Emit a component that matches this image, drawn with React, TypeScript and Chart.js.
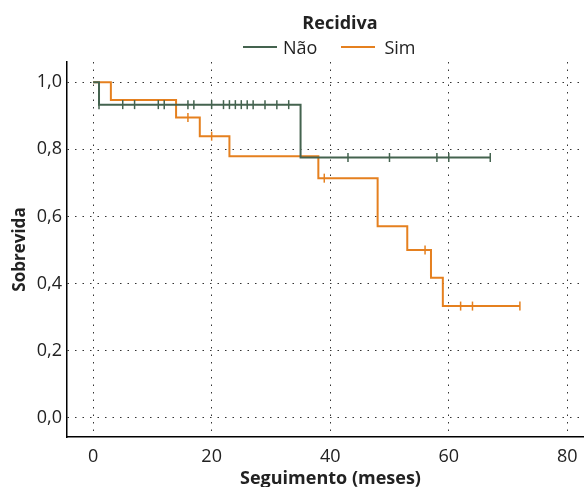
import React, { useEffect, useRef } from "react";
import { Chart, registerables } from "chart.js";

Chart.register(...registerables);

// Kaplan-Meier curves (time in months, survival)
const naoTimes = [0, 1, 35, 67];
const naoSurv = [1.0, 0.933, 0.7755, 0.7755];
const naoCensored = [1, 5, 7, 11, 12, 16, 17, 20, 22, 23, 24, 25, 26, 27, 29, 31, 33, 43, 50, 58, 60, 67];

const simTimes = [0, 3, 14, 18, 23, 38, 48, 53, 57, 59, 72];
const simSurv = [1.0, 0.947, 0.895, 0.839, 0.779, 0.714, 0.571, 0.5, 0.417, 0.333, 0.333];
const simCensored = [16, 20, 39, 56, 62, 64, 72];

const xTicks = [0, 20, 40, 60, 80];
const yTicks = [0, 0.2, 0.4, 0.6, 0.8, 1.0];

const legendTitle = "Recidiva";
const seriesNames = ["Não", "Sim"];
const yTitle = "Sobrevida";
const xTitle = "Seguimento (meses)";

const GREEN = "#44634f";
const ORANGE = "#e5801f";
const FONT = "'Open Sans', sans-serif";

function survAt(times: number[], surv: number[], t: number) {
  let s = surv[0];
  for (let i = 0; i < times.length; i++) if (times[i] <= t) s = surv[i];
  return s;
}

export default function App() {
  const ref = useRef<HTMLCanvasElement>(null);
  useEffect(() => {
    if (!ref.current) return;
    const chart = new Chart(ref.current, {
      type: "line",
      data: {
        datasets: [
          {
            label: seriesNames[0],
            data: naoTimes.map((t, i) => ({ x: t, y: naoSurv[i] })),
            borderColor: GREEN,
            borderWidth: 2,
            stepped: true,
            pointRadius: 0,
            fill: false,
          },
          {
            label: seriesNames[0] + " censored",
            data: naoCensored.map((t) => ({ x: t, y: survAt(naoTimes, naoSurv, t) })),
            showLine: false,
            pointStyle: "line",
            rotation: 90,
            pointRadius: 4.5,
            borderColor: GREEN,
            borderWidth: 1.5,
          },
          {
            label: seriesNames[1],
            data: simTimes.map((t, i) => ({ x: t, y: simSurv[i] })),
            borderColor: ORANGE,
            borderWidth: 2,
            stepped: true,
            pointRadius: 0,
            fill: false,
          },
          {
            label: seriesNames[1] + " censored",
            data: simCensored.map((t) => ({ x: t, y: survAt(simTimes, simSurv, t) })),
            showLine: false,
            pointStyle: "line",
            rotation: 90,
            pointRadius: 4.5,
            borderColor: ORANGE,
            borderWidth: 1.5,
          },
        ],
      },
      options: {
        animation: false,
        responsive: false,
        maintainAspectRatio: false,
        layout: { padding: { top: 62, left: 0, right: 0, bottom: 0 } },
        plugins: { legend: { display: false }, tooltip: { enabled: false } },
        scales: {
          x: {
            type: "linear",
            min: -4.4,
            max: 84.5,
            afterBuildTicks: (s: any) => {
              s.ticks = xTicks.map((v) => ({ value: v }));
            },
            afterFit: (s: any) => {
              s.height = 50;
            },
            grid: { color: "#333", lineWidth: 1, drawTicks: false },
            border: { display: true, color: "#000", width: 1.5, dash: [1.5, 6] },
            ticks: {
              color: "#222",
              font: { family: FONT, size: 18 },
              padding: 9,
              maxRotation: 0,
              callback: (v: any) => String(v),
            },
            title: {
              display: true,
              text: xTitle,
              color: "#222",
              font: { family: FONT, size: 18, weight: "bold" },
              padding: { top: 0, bottom: -3 },
            },
          },
          y: {
            type: "linear",
            min: -0.057,
            max: 1.06,
            afterBuildTicks: (s: any) => {
              s.ticks = yTicks.map((v) => ({ value: v }));
            },
            afterFit: (s: any) => {
              s.width = 67;
            },
            grid: { color: "#333", lineWidth: 1, drawTicks: false },
            border: { display: true, color: "#000", width: 1.5, dash: [1.5, 6] },
            ticks: {
              color: "#222",
              font: { family: FONT, size: 18 },
              padding: 5,
              callback: (v: any) => Number(v).toFixed(1).replace(".", ","),
            },
            title: {
              display: true,
              text: yTitle,
              color: "#222",
              font: { family: FONT, size: 17, weight: "bold" },
              padding: { top: 10, bottom: 0 },
            },
          },
        },
      },
    });
    return () => chart.destroy();
  }, []);

  const lineSwatch = (c: string) => (
    <span style={{ display: "inline-block", width: 34, height: 2, background: c, verticalAlign: "middle", marginRight: 6 }} />
  );

  return (
    <div style={{ position: "absolute", left: 0, top: 0, width: 584, height: 487, overflow: "hidden", background: "#fff", fontFamily: FONT }}>
      <canvas ref={ref} width={600} height={487} style={{ position: "absolute", left: 0, top: 0, width: 600, height: 487 }} />
      <div style={{ position: "absolute", left: 240, top: 11, width: 200, textAlign: "center", fontWeight: "bold", fontSize: 18, color: "#222", lineHeight: "22px" }}>
        {legendTitle}
      </div>
      <div style={{ position: "absolute", left: 243, top: 34, fontSize: 18, color: "#222", lineHeight: "22px", whiteSpace: "nowrap" }}>
        {lineSwatch(GREEN)}
        <span style={{ verticalAlign: "middle", marginRight: 24 }}>{seriesNames[0]}</span>
        {lineSwatch(ORANGE)}
        <span style={{ verticalAlign: "middle", marginLeft: 3 }}>{seriesNames[1]}</span>
      </div>
    </div>
  );
}
